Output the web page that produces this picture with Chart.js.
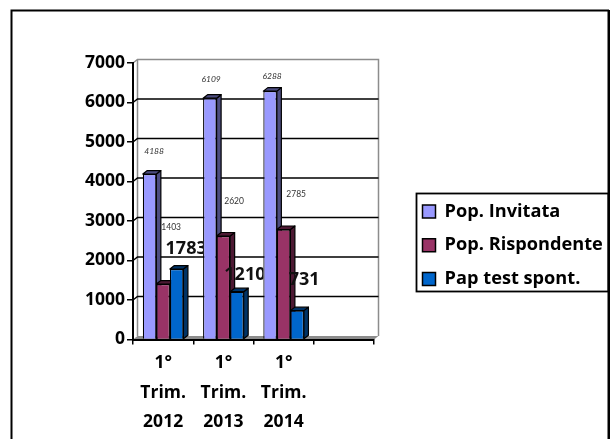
<!DOCTYPE html>
<html><head><meta charset="utf-8">
<style>html,body{margin:0;padding:0;background:#fff}canvas{display:block}</style>
<script src="https://cdn.jsdelivr.net/npm/chart.js@4"></script></head>
<body><div style="width:610px;height:439px"><canvas id="c" width="610" height="439"></canvas></div>
<script>
const categories = [["1°","Trim.","2012"],["1°","Trim.","2013"],["1°","Trim.","2014"],""];
const invitata = [4188,6109,6288,null];
const rispondente = [1403,2620,2785,null];
const spontanei = [1783,1210,731,null];
const yTicks = [0,1000,2000,3000,4000,5000,6000,7000];
const seriesNames = ["Pop. Invitata","Pop. Rispondente","Pap test spont."];
const fills = ["#9999FF","#993366","#0066CC"];
const sides = ["#4D4D80","#4D1933","#003366"];
const labelShift = [
 [[4.5,-23],[1.3,-19],[2,-15]],
 [[8,-57],[10.7,-35],[12.5,-35]],
 [[9.5,-20],[8,-16.5],[7,-31]]
];
const DX=4.5, DY=3.5;
const scene = {
 id:'scene',
 afterLayout(ch){
  const l=ch.legend; const w=l.width,h=l.height;
  l.left=407; l.top=187; l.right=407+w; l.bottom=187+h;
 },
 beforeDraw(ch){
  const c=ch.ctx,a=ch.chartArea,ys=ch.scales.y;
  c.save();
  c.strokeStyle='#000';c.lineWidth=2;
  c.beginPath();c.moveTo(11.5,439);c.lineTo(11.5,10.5);c.lineTo(609,10.5);c.stroke();
  c.lineWidth=3;c.beginPath();c.moveTo(609,10);c.lineTo(609,439);c.stroke();
  c.lineWidth=1.8;
  c.strokeRect(416.5,193.5,192,98);
  const top=a.top,bot=a.bottom,L=a.left,R=a.right;
  c.strokeStyle='#8c8c8c';c.lineWidth=1.5;
  c.beginPath();c.moveTo(L,top);c.lineTo(L+DX,top-DY);c.lineTo(R+DX,top-DY);c.lineTo(R+DX,bot-DY);
  c.moveTo(L+DX,top-DY);c.lineTo(L+DX,bot-DY);c.stroke();
  c.fillStyle='#8c8c8c';
  c.beginPath();c.moveTo(L,bot);c.lineTo(L+DX,bot-DY);c.lineTo(R+DX,bot-DY);c.lineTo(R,bot);c.closePath();c.fill();
  c.strokeStyle='#000';c.lineWidth=1.5;
  yTicks.slice(1,-1).forEach(v=>{const y=ys.getPixelForValue(v)-DY;c.beginPath();c.moveTo(L,y+DY);c.lineTo(L+DX,y);c.lineTo(R+DX,y);c.stroke();});
  c.restore();
 },
 beforeDatasetsDraw(ch){
  const c=ch.ctx;
  c.save();
  c.lineWidth=1.2;c.strokeStyle='#000';c.lineJoin='round';
  const drawDepth=(bar,s)=>{
   const lft=bar.x-bar.width/2,rgt=bar.x+bar.width/2,t=bar.y,b=bar.base;
   c.fillStyle=sides[s];
   c.beginPath();c.moveTo(rgt,t);c.lineTo(rgt+DX,t-DY);c.lineTo(rgt+DX,b-DY);c.lineTo(rgt,b);c.closePath();c.fill();c.stroke();
   c.beginPath();c.moveTo(lft,t);c.lineTo(lft+DX,t-DY);c.lineTo(rgt+DX,t-DY);c.lineTo(rgt,t);c.closePath();c.fill();c.stroke();
  };
  [0,1,2].forEach(g=>{
   [0,1,2].forEach(s=>{
    drawDepth(ch.getDatasetMeta(s).data[g],s);
   });
  });
  c.restore();
 },
 afterDatasetsDraw(ch){
  const c=ch.ctx;
  c.save();
  c.textAlign='center';c.textBaseline='middle';
  [invitata,rispondente,spontanei].forEach((arr,s)=>{
   arr.slice(0,3).forEach((v,g)=>{
    const bar=ch.getDatasetMeta(s).data[g];
    const [ox,oy]=labelShift[s][g];
    c.save();
    if(s===2){
     const next=ch.getDatasetMeta(0).data[g+1];
     if(g<2){c.beginPath();c.rect(0,0,next.x-next.width/2,439);c.clip();}
     c.font='bold 18px "Open Sans"';c.fillStyle='#111';
    } else {
     c.font=(s===0?'italic ':'')+'8.5px Lato';c.fillStyle='#333';
    }
    c.fillText(String(v),bar.x+ox,bar.y+oy);
    c.restore();
   });
  });
  c.restore();
 }
};
Chart.register(scene);
new Chart(document.getElementById('c'),{
 type:'bar',
 data:{labels:categories,datasets:[
  {label:seriesNames[0],data:invitata,backgroundColor:fills[0]},
  {label:seriesNames[1],data:rispondente,backgroundColor:fills[1]},
  {label:seriesNames[2],data:spontanei,backgroundColor:fills[2]}
 ].map(d=>Object.assign(d,{borderColor:'#000',borderWidth:1.2,categoryPercentage:0.674,barPercentage:1}))},
 options:{
  responsive:false,animation:false,devicePixelRatio:1,
  layout:{padding:{left:0,top:63,right:236,bottom:0}},
  plugins:{
   tooltip:{enabled:false},
   title:{display:false},
   legend:{position:'chartArea',align:'start',labels:{font:{family:'Open Sans',size:18.2,weight:'bold'},color:'#000',boxWidth:13,boxHeight:13,padding:15.5,
     generateLabels(ch){return ch.data.datasets.map((d,i)=>({text:d.label,fillStyle:fills[i],strokeStyle:'#000',lineWidth:1.5,datasetIndex:i}));}}}
  },
  scales:{
   x:{afterFit(s){s.height=99.5;},grid:{offset:true,drawOnChartArea:false,color:'#000',tickLength:5,lineWidth:1.5},border:{color:'#000',width:2},
      ticks:{maxRotation:0,minRotation:0,autoSkip:false,padding:4,color:'#000',font:{family:'Open Sans',size:17.5,weight:'bold',lineHeight:1.68}}},
   y:{min:0,max:7000,afterFit(s){s.width=133;},afterBuildTicks(s){s.ticks=yTicks.map(v=>({value:v}));},
      grid:{drawOnChartArea:false,color:'#000',tickLength:6,lineWidth:1.5},border:{color:'#000',width:2},
      ticks:{padding:2,color:'#000',callback:v=>String(v),font:{family:'Open Sans',size:17.5,weight:'bold'}}}
  }
 }
});
</script></body></html>
